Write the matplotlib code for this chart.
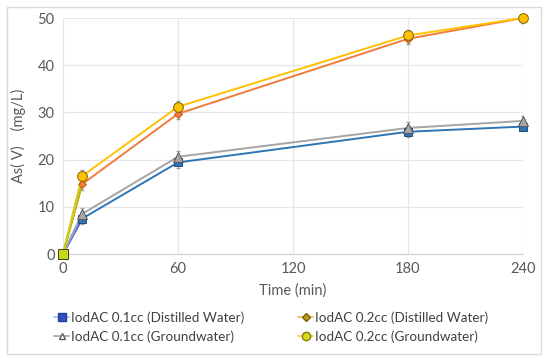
import matplotlib.pyplot as plt
from matplotlib.lines import Line2D
from matplotlib.patches import Rectangle

plt.rcParams['font.family'] = ['Lato', 'DejaVu Sans']

t = [0, 10, 60, 180, 240]
dw_01 = [0, 7.5, 19.4, 25.9, 27.0]
dw_02 = [0, 14.8, 29.7, 45.6, 50.0]
gw_01 = [0, 8.5, 20.6, 26.7, 28.2]
gw_02 = [0, 16.5, 31.2, 46.3, 50.0]
err = [0, 1.2, 1.2, 1.2, 1.0]

labels = ['IodAC 0.1cc (Distilled Water)', 'IodAC 0.1cc (Groundwater)',
          'IodAC 0.2cc (Distilled Water)', 'IodAC 0.2cc (Groundwater)']

fig = plt.figure(figsize=(5.5, 3.64), dpi=100)
fig.patches.append(Rectangle((7/550, 1-354/364), 534/550, 347/364, transform=fig.transFigure,
                             fill=False, edgecolor='#D9D9D9', lw=1))
ax = fig.add_axes([63/550, 1-254/364, 460/550, 236/364])

series = [
    (dw_01, '#2E75B6', '#6A5ACD', 's', '#2E75B6', '#1F4E79', 6),
    (gw_01, '#A5A5A5', '#8FA8C0', '^', '#A5A5A5', '#595959', 6.5),
    (dw_02, '#F07C3C', '#B8B020', 'D', '#F07C3C', '#C55A11', 4.5),
    (gw_02, '#FFC000', '#C8D020', 'o', '#FFC000', '#7F6000', 7),
]
for y, c, c0, m, fc, ec, ms in series:
    ax.errorbar(t, y, yerr=err, fmt='none', ecolor='#A0A0A0', elinewidth=0.8, capsize=1.5, zorder=2)
    ax.plot(t, y, color=c, lw=1.4, zorder=3)
    ax.plot(t[:2], y[:2], color=c0, lw=1.4, zorder=3)
    ax.plot(t[1:], y[1:], ls='none', marker=m, ms=ms, mfc=fc, mec=ec, mew=0.7, zorder=4, clip_on=False)
# starting point
ax.plot(t[:1], gw_02[:1], ls='none', marker='s', ms=6.5, mfc='#C8D820', mec='#404000', mew=0.7,
        zorder=5, clip_on=False)

ax.set_xlim(0, 240)
ax.set_ylim(0, 50)
ax.set_xticks([0, 60, 120, 180, 240])
ax.set_yticks([0, 10, 20, 30, 40, 50])
ax.grid(color='#E6E6E6', lw=0.9)
ax.set_axisbelow(True)
for s in ['top', 'right', 'left']:
    ax.spines[s].set_visible(False)
ax.spines['bottom'].set_color('#D0D0D0')
ax.tick_params(length=0, labelsize=10.5, colors='#595959', pad=6)
ax.set_xlabel('Time (min)', fontsize=10.5, color='#595959', labelpad=5)
ax.set_ylabel('As( V)    (mg/L)', fontsize=10.5, color='#595959', labelpad=8)

handles = [
    Line2D([], [], color='#9DC3E6', marker='s', ms=6, mfc='#3050C0', mec='#2040A0', lw=1.2),
    Line2D([], [], color='#A5A5A5', marker='^', ms=5, mfc='white', mec='#595959', lw=1.2),
    Line2D([], [], color='#E0C060', marker='D', ms=4.5, mfc='#B8A020', mec='#806000', lw=1.2),
    Line2D([], [], color='#F0D060', marker='o', ms=6, mfc='#D8D820', mec='#808000', lw=1.2),
]
fig.legend(handles, labels, loc='center left', bbox_to_anchor=(42/550, 1-327/364), ncol=2,
           frameon=False, fontsize=9.7, handlelength=1.1, handletextpad=0.15,
           columnspacing=4.0, labelspacing=0.5, labelcolor='#404040')

fig.savefig('out.png', dpi=100)
